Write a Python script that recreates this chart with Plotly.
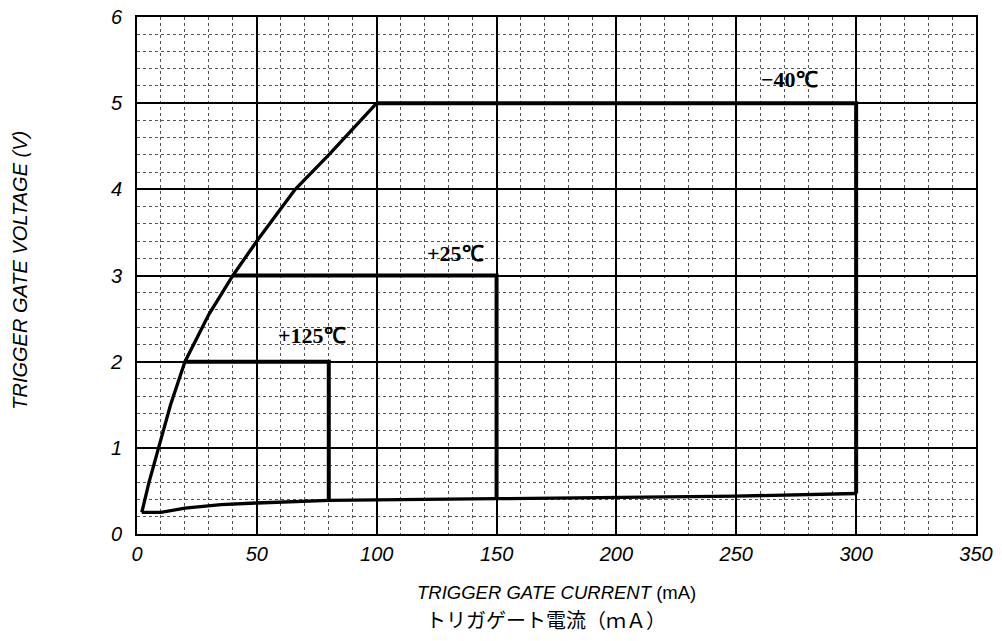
import plotly.graph_objects as go

# ---- data ----
# upper envelope curve (gate voltage limit vs current)
env_x = [2, 5, 9, 14, 20, 30, 40, 50, 66, 80, 100]
env_y = [0.25, 0.6, 1.0, 1.5, 2.0, 2.55, 3.0, 3.4, 4.0, 4.4, 5.0]
# lower curve
low_x = [2, 10, 20, 35, 50, 80, 150, 250, 300]
low_y = [0.25, 0.25, 0.30, 0.34, 0.36, 0.39, 0.41, 0.44, 0.47]
# temperature boxes
temp_labels = ["+125℃", "+25℃", "−40℃"]
box_x_start = [20, 40, 100]
box_x_end = [80, 150, 300]
box_v = [2, 3, 5]
box_bottom = [0.39, 0.41, 0.47]
label_x = [73, 133, 272]
label_y = [2.3, 3.26, 5.27]

x_ticks = [0, 50, 100, 150, 200, 250, 300, 350]
y_ticks = [0, 1, 2, 3, 4, 5, 6]

fig = go.Figure()
fig.add_trace(go.Scatter(x=env_x, y=env_y, mode="lines",
                         line=dict(color="black", width=3.3), showlegend=False))
fig.add_trace(go.Scatter(x=low_x, y=low_y, mode="lines",
                         line=dict(color="black", width=3.3), showlegend=False))
for xs, xe, v, b in zip(box_x_start, box_x_end, box_v, box_bottom):
    fig.add_trace(go.Scatter(x=[xs, xe, xe], y=[v, v, b], mode="lines",
                             line=dict(color="black", width=4), showlegend=False))

for t, lx, ly in zip(temp_labels, label_x, label_y):
    fig.add_annotation(x=lx, y=ly, text=t, showarrow=False,
                       font=dict(family="Liberation Serif", size=22, color="black",
                                 weight="bold"))

tickfont = dict(family="Liberation Sans", size=20, color="black", style="italic")
fig.update_xaxes(range=[0, 350], tickvals=x_ticks, ticktext=[str(v) for v in x_ticks],
                 showgrid=True, gridcolor="black", gridwidth=1.5,
                 minor=dict(dtick=10, showgrid=True, gridcolor="#555", gridwidth=1,
                            griddash="3px,3px"),
                 showline=True, linecolor="black", linewidth=2, mirror=True,
                 zeroline=False, tickfont=tickfont, ticks="", ticklabelstandoff=1,
                 automargin=False, ticklabeloverflow="allow")
fig.update_yaxes(range=[0, 6], tickvals=y_ticks, ticktext=[str(v) for v in y_ticks],
                 showgrid=True, gridcolor="black", gridwidth=1.5,
                 minor=dict(dtick=0.2, showgrid=True, gridcolor="#555", gridwidth=1,
                            griddash="3px,3px"),
                 showline=True, linecolor="black", linewidth=2, mirror=True,
                 zeroline=False, tickfont=tickfont, ticks="", ticklabelstandoff=9,
                 automargin=False, ticklabeloverflow="allow")

fig.add_annotation(xref="paper", yref="paper", x=0.5, y=-0.114, yanchor="middle",
                   text="<i>TRIGGER GATE CURRENT</i> (mA)", showarrow=False,
                   font=dict(family="Liberation Sans", size=18.5, color="black"))
fig.add_annotation(xref="paper", yref="paper", x=0.488, y=-0.166, yanchor="middle",
                   text="トリガゲート電流（ｍＡ）", showarrow=False,
                   font=dict(family="Noto Sans CJK JP", size=20, color="black"))
fig.add_annotation(xref="paper", yref="paper", x=-0.139, y=0.51, xanchor="center",
                   text="TRIGGER GATE VOLTAGE (V)", textangle=-90, showarrow=False,
                   font=dict(family="Liberation Sans", size=20, color="black",
                             style="italic"))

fig.update_layout(width=1002, height=641, plot_bgcolor="white", paper_bgcolor="white",
                  margin=dict(l=137, r=26, t=17, b=107, autoexpand=False),
                  hovermode=False)
fig.write_html("out.html", config={"displayModeBar": False},
               post_script="document.body.style.margin='0px';"
                           "document.body.style.overflow='hidden';")
